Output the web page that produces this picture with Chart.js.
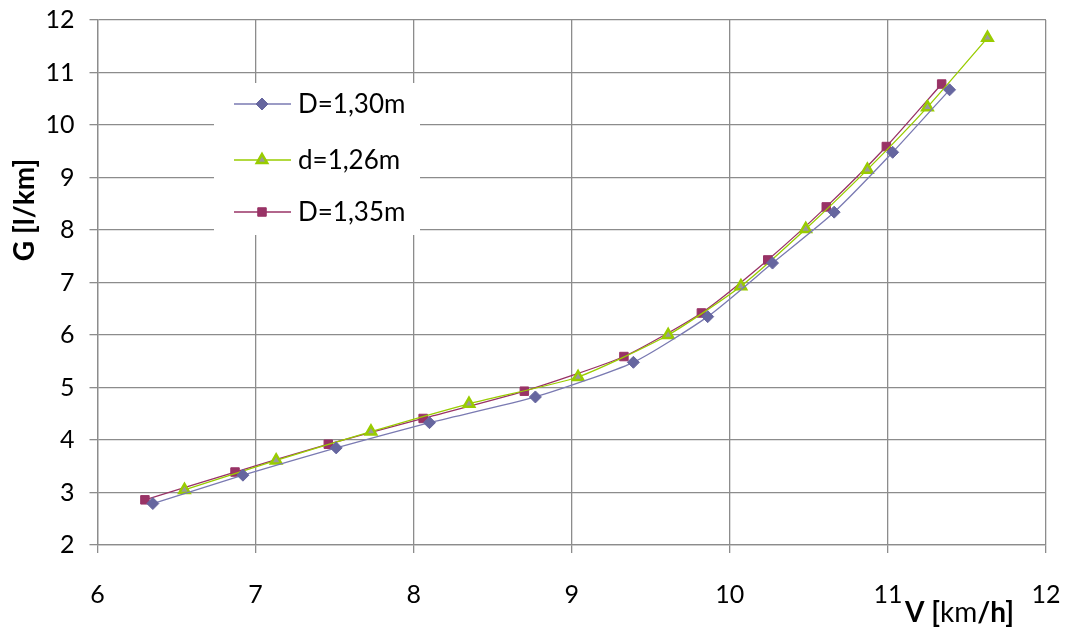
<!DOCTYPE html>
<html>
<head>
<meta charset="utf-8">
<script src="https://cdn.jsdelivr.net/npm/chart.js@4/dist/chart.umd.min.js"></script>
<style>
  html, body { margin: 0; padding: 0; background: #fff; }
  #wrap { width: 1066px; height: 628px; }
</style>
</head>
<body>
<div id="wrap"><canvas id="chart" width="1066" height="628"></canvas></div>
<script>
// speed V [km/h] and consumption G [l/km] per series
let seriesNames = ["D=1,30m", "d=1,26m", "D=1,35m"];

let vD130 = [6.35, 6.92, 7.51, 8.10, 8.77, 9.39, 9.86, 10.27, 10.66, 11.03, 11.39];
let gD130 = [2.79, 3.33, 3.85, 4.33, 4.82, 5.48, 6.35, 7.37, 8.34, 9.48, 10.67];

let vd126 = [6.55, 7.13, 7.73, 8.35, 9.04, 9.61, 10.07, 10.48, 10.87, 11.25, 11.63];
let gd126 = [3.05, 3.61, 4.16, 4.69, 5.20, 6.00, 6.93, 8.02, 9.15, 10.34, 11.66];

let vD135 = [6.30, 6.87, 7.46, 8.06, 8.70, 9.33, 9.82, 10.24, 10.61, 10.99, 11.34];
let gD135 = [2.86, 3.39, 3.92, 4.41, 4.93, 5.59, 6.42, 7.43, 8.44, 9.59, 10.78];

let xTicks = [6, 7, 8, 9, 10, 11, 12];
let yTicks = [2, 3, 4, 5, 6, 7, 8, 9, 10, 11, 12];

let font = "Lato";

function toPoints(xs, ys) {
    return xs.map((x, i) => ({ x: x, y: ys[i] }));
}

// legend drawn inside the plot, like the original
let insideLegend = {
    id: "insideLegend",
    afterDraw(chart) {
        let ctx = chart.ctx;
        ctx.save();
        ctx.fillStyle = "#fff";
        ctx.fillRect(214, 83, 206, 152);

        let rows = [104, 160, 212];
        chart.data.datasets.forEach((ds, i) => {
            let y = rows[i];
            ctx.strokeStyle = ds.borderColor;
            ctx.lineWidth = 1.5;
            ctx.beginPath();
            ctx.moveTo(234, y);
            ctx.lineTo(291, y);
            ctx.stroke();

            ctx.fillStyle = ds.pointBackgroundColor;
            ctx.strokeStyle = ds.pointBorderColor;
            ctx.lineWidth = ds.pointBorderWidth;
            Chart.helpers.drawPoint(ctx, {
                pointStyle: ds.pointStyle,
                radius: ds.pointRadius,
                rotation: 0,
                borderWidth: ds.pointBorderWidth
            }, 262, y);

            ctx.fillStyle = "#000";
            ctx.font = "26px " + font;
            ctx.textBaseline = "middle";
            ctx.textAlign = "left";
            ctx.fillText(ds.label, 298, y + 1);
        });

        // axis titles
        ctx.fillStyle = "#000";
        ctx.save();
        ctx.translate(25, 210);
        ctx.rotate(-Math.PI / 2);
        ctx.font = "bold 28px " + font;
        ctx.textAlign = "center";
        ctx.textBaseline = "middle";
        ctx.fillText("G [l/km]", 0, 0);
        ctx.restore();

        // x title: mixed bold / regular
        let parts = [["V [", true], ["km", false], ["/h]", true]];
        let x = 905;
        ctx.textBaseline = "alphabetic";
        ctx.textAlign = "left";
        parts.forEach(p => {
            ctx.font = (p[1] ? "bold " : "") + "28px " + font;
            ctx.fillText(p[0], x, 622);
            x += ctx.measureText(p[0]).width;
        });
        ctx.restore();
    }
};

let ctx = document.getElementById("chart").getContext("2d");

let chart = new Chart(ctx, {
    type: "scatter",
    data: {
        datasets: [
            {
                label: seriesNames[0],
                data: toPoints(vD130, gD130),
                showLine: true,
                tension: 0.2,
                borderColor: "#7a7ab2",
                borderWidth: 1.3,
                pointStyle: "rectRot",
                pointRadius: 6,
                pointBackgroundColor: "#66669f",
                pointBorderColor: "#66669f",
                pointBorderWidth: 1
            },
            {
                label: seriesNames[1],
                data: toPoints(vd126, gd126),
                showLine: true,
                tension: 0.2,
                borderColor: "#99cc00",
                borderWidth: 1.3,
                pointStyle: "triangle",
                pointRadius: 6,
                pointBackgroundColor: "#9a9a9a",
                pointBorderColor: "#99cc00",
                pointBorderWidth: 2.5
            },
            {
                label: seriesNames[2],
                data: toPoints(vD135, gD135),
                showLine: true,
                tension: 0.2,
                borderColor: "#993366",
                borderWidth: 1.3,
                pointStyle: "rect",
                pointRadius: 6,
                pointBackgroundColor: "#993366",
                pointBorderColor: "#993366",
                pointBorderWidth: 1
            }
        ]
    },
    options: {
        responsive: false,
        animation: false,
        layout: { padding: { top: 20, right: 20, left: 0, bottom: 0 } },
        plugins: {
            legend: { display: false },
            tooltip: { enabled: false }
        },
        scales: {
            x: {
                type: "linear",
                min: 6,
                max: 12,
                afterBuildTicks: s => { s.ticks = xTicks.map(v => ({ value: v })); },
                afterFit: s => {
                    s.height = 83;
                    s.paddingLeft = 0;
                    s.paddingRight = 0;
                },
                grid: { color: "#8c8c8c", lineWidth: 1.3, tickLength: 8 },
                border: { color: "#8c8c8c", width: 1.3 },
                ticks: { color: "#000", padding: 27, font: { family: font, size: 25 }, maxRotation: 0 }
            },
            y: {
                type: "linear",
                min: 2,
                max: 12,
                afterBuildTicks: s => { s.ticks = yTicks.map(v => ({ value: v })); },
                afterFit: s => {
                    s.width = 97.5;
                    s.paddingTop = 0;
                    s.paddingBottom = 0;
                },
                grid: { color: "#8c8c8c", lineWidth: 1.3, tickLength: 8 },
                border: { color: "#8c8c8c", width: 1.3 },
                ticks: { color: "#000", padding: 15, font: { family: font, size: 25 } }
            }
        }
    },
    plugins: [insideLegend]
});
</script>
</body>
</html>
